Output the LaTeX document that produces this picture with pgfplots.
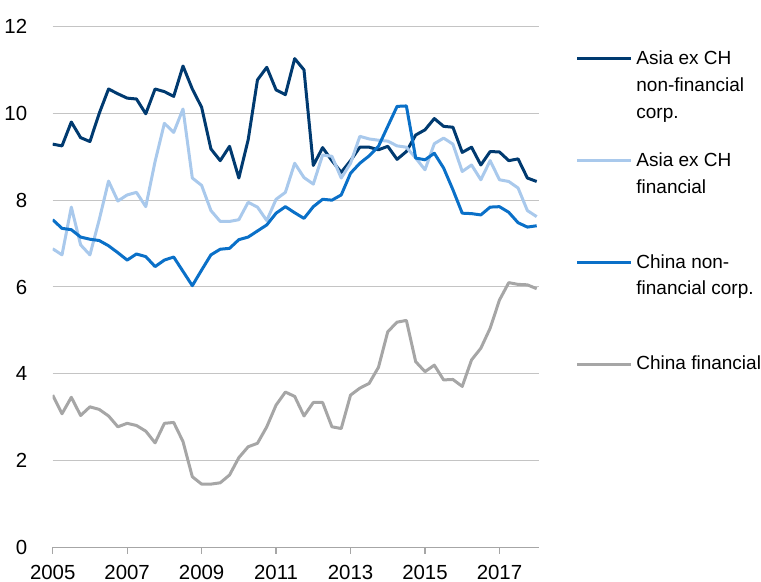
\documentclass[border=0pt]{standalone}
\usepackage{fontspec}
\setmainfont{Liberation Sans}
\usepackage{pgfplots}
\usepackage{pgfplotstable}
\pgfplotsset{compat=1.18}
\definecolor{cnavy}{HTML}{003A70}
\definecolor{clight}{HTML}{A9C9EC}
\definecolor{cmed}{HTML}{0A70C8}
\definecolor{cgray}{HTML}{A6A6A6}
\definecolor{cgrid}{HTML}{C4C4C4}
\definecolor{caxis}{HTML}{A6A6A6}
\pgfplotstableread{
x a b c d
2005.00 9.29 6.88 7.55 3.51
2005.25 9.25 6.74 7.35 3.08
2005.50 9.80 7.84 7.32 3.46
2005.75 9.44 6.97 7.15 3.04
2006.00 9.35 6.74 7.10 3.24
2006.25 10.00 7.55 7.07 3.18
2006.50 10.56 8.44 6.95 3.03
2006.75 10.45 7.98 6.79 2.78
2007.00 10.35 8.12 6.62 2.86
2007.25 10.33 8.18 6.76 2.81
2007.50 9.99 7.85 6.70 2.68
2007.75 10.56 8.89 6.47 2.41
2008.00 10.50 9.77 6.62 2.86
2008.25 10.39 9.56 6.69 2.88
2008.50 11.09 10.10 6.36 2.44
2008.75 10.56 8.51 6.03 1.63
2009.00 10.14 8.34 6.39 1.46
2009.25 9.18 7.76 6.74 1.46
2009.50 8.91 7.51 6.87 1.49
2009.75 9.24 7.51 6.89 1.67
2010.00 8.51 7.55 7.09 2.07
2010.25 9.39 7.95 7.15 2.32
2010.50 10.77 7.84 7.29 2.40
2010.75 11.06 7.53 7.43 2.78
2011.00 10.54 8.02 7.70 3.28
2011.25 10.43 8.18 7.85 3.58
2011.50 11.26 8.85 7.71 3.48
2011.75 11.00 8.52 7.58 3.03
2012.00 8.80 8.37 7.85 3.34
2012.25 9.21 9.04 8.02 3.34
2012.50 8.91 9.01 8.00 2.78
2012.75 8.64 8.51 8.12 2.74
2013.00 8.91 8.85 8.62 3.51
2013.25 9.22 9.47 8.85 3.67
2013.50 9.22 9.41 9.02 3.78
2013.75 9.16 9.38 9.24 4.15
2014.00 9.24 9.36 9.70 4.97
2014.25 8.94 9.25 10.16 5.19
2014.50 9.12 9.22 10.17 5.23
2014.75 9.50 8.97 8.97 4.28
2015.00 9.62 8.70 8.93 4.05
2015.25 9.88 9.30 9.08 4.20
2015.50 9.70 9.43 8.74 3.86
2015.75 9.68 9.29 8.24 3.87
2016.00 9.10 8.66 7.70 3.71
2016.25 9.22 8.81 7.69 4.32
2016.50 8.81 8.47 7.66 4.59
2016.75 9.12 8.91 7.84 5.05
2017.00 9.11 8.47 7.85 5.70
2017.25 8.91 8.43 7.72 6.10
2017.50 8.95 8.28 7.48 6.06
2017.75 8.51 7.76 7.38 6.05
2018.00 8.43 7.62 7.41 5.96
}\datatable
\begin{document}
\begin{tikzpicture}
\begin{axis}[
  at={(0pt,0pt)}, anchor=south west,
  scale only axis, width=243.3pt, height=260.5pt,
  xmin=2005, xmax=2018.07, ymin=0, ymax=12,
  axis x line*=bottom, axis y line*=left,
  x axis line style={draw=caxis, line width=0.65pt},
  y axis line style={draw=none},
  xtick={2005,2007,...,2017},
  ytick={0,2,...,12},
  tick align=outside,
  major tick length=3.2pt,
  xtick style={draw=caxis, line width=0.65pt},
  ytick style={draw=none},
  ymajorgrids, grid style={draw=cgrid, line width=0.5pt},
  /pgf/number format/1000 sep={},
  /pgf/number format/assume math mode=true,
  tick label style={font=\fontsize{10.2pt}{12pt}\selectfont, text=black},
  xticklabel style={anchor=north, inner sep=0pt, yshift=-5.6pt},
  yticklabel style={anchor=east, inner sep=0pt, xshift=-9.4pt},
  xticklabel shift=0pt,
  every axis plot/.append style={line width=1.5pt, line join=round, mark=none},
]
\addplot[cnavy] table[x=x, y=a] {\datatable};
\addplot[clight] table[x=x, y=b] {\datatable};
\addplot[cmed] table[x=x, y=c] {\datatable};
\addplot[cgray] table[x=x, y=d] {\datatable};
\end{axis}
\begin{scope}[every node/.style={anchor=base west, inner sep=0pt, font=\fontsize{9.5pt}{12pt}\selectfont}]
\draw[cnavy, line width=1.5pt] (262.15pt,244.4pt) -- (289.15pt,244.4pt);
\draw[clight, line width=1.5pt] (262.15pt,193.25pt) -- (289.15pt,193.25pt);
\draw[cmed, line width=1.5pt] (262.15pt,142.6pt) -- (289.15pt,142.6pt);
\draw[cgray, line width=1.5pt] (262.15pt,91.6pt) -- (289.15pt,91.6pt);
\node at (291.65pt,241.25pt) {Asia ex CH};
\node at (291.65pt,227.9pt) {non-financial};
\node at (291.65pt,214.6pt) {corp.};
\node at (291.65pt,190.4pt) {Asia ex CH};
\node at (291.65pt,177.1pt) {financial};
\node at (291.65pt,139.6pt) {China non-};
\node at (291.65pt,126.25pt) {financial corp.};
\node at (291.65pt,88.75pt) {China financial};
\end{scope}
\pgfresetboundingbox
\useasboundingbox (-26.35pt,-17.25pt) rectangle (354.15pt,273.75pt);
\end{tikzpicture}
\end{document}
